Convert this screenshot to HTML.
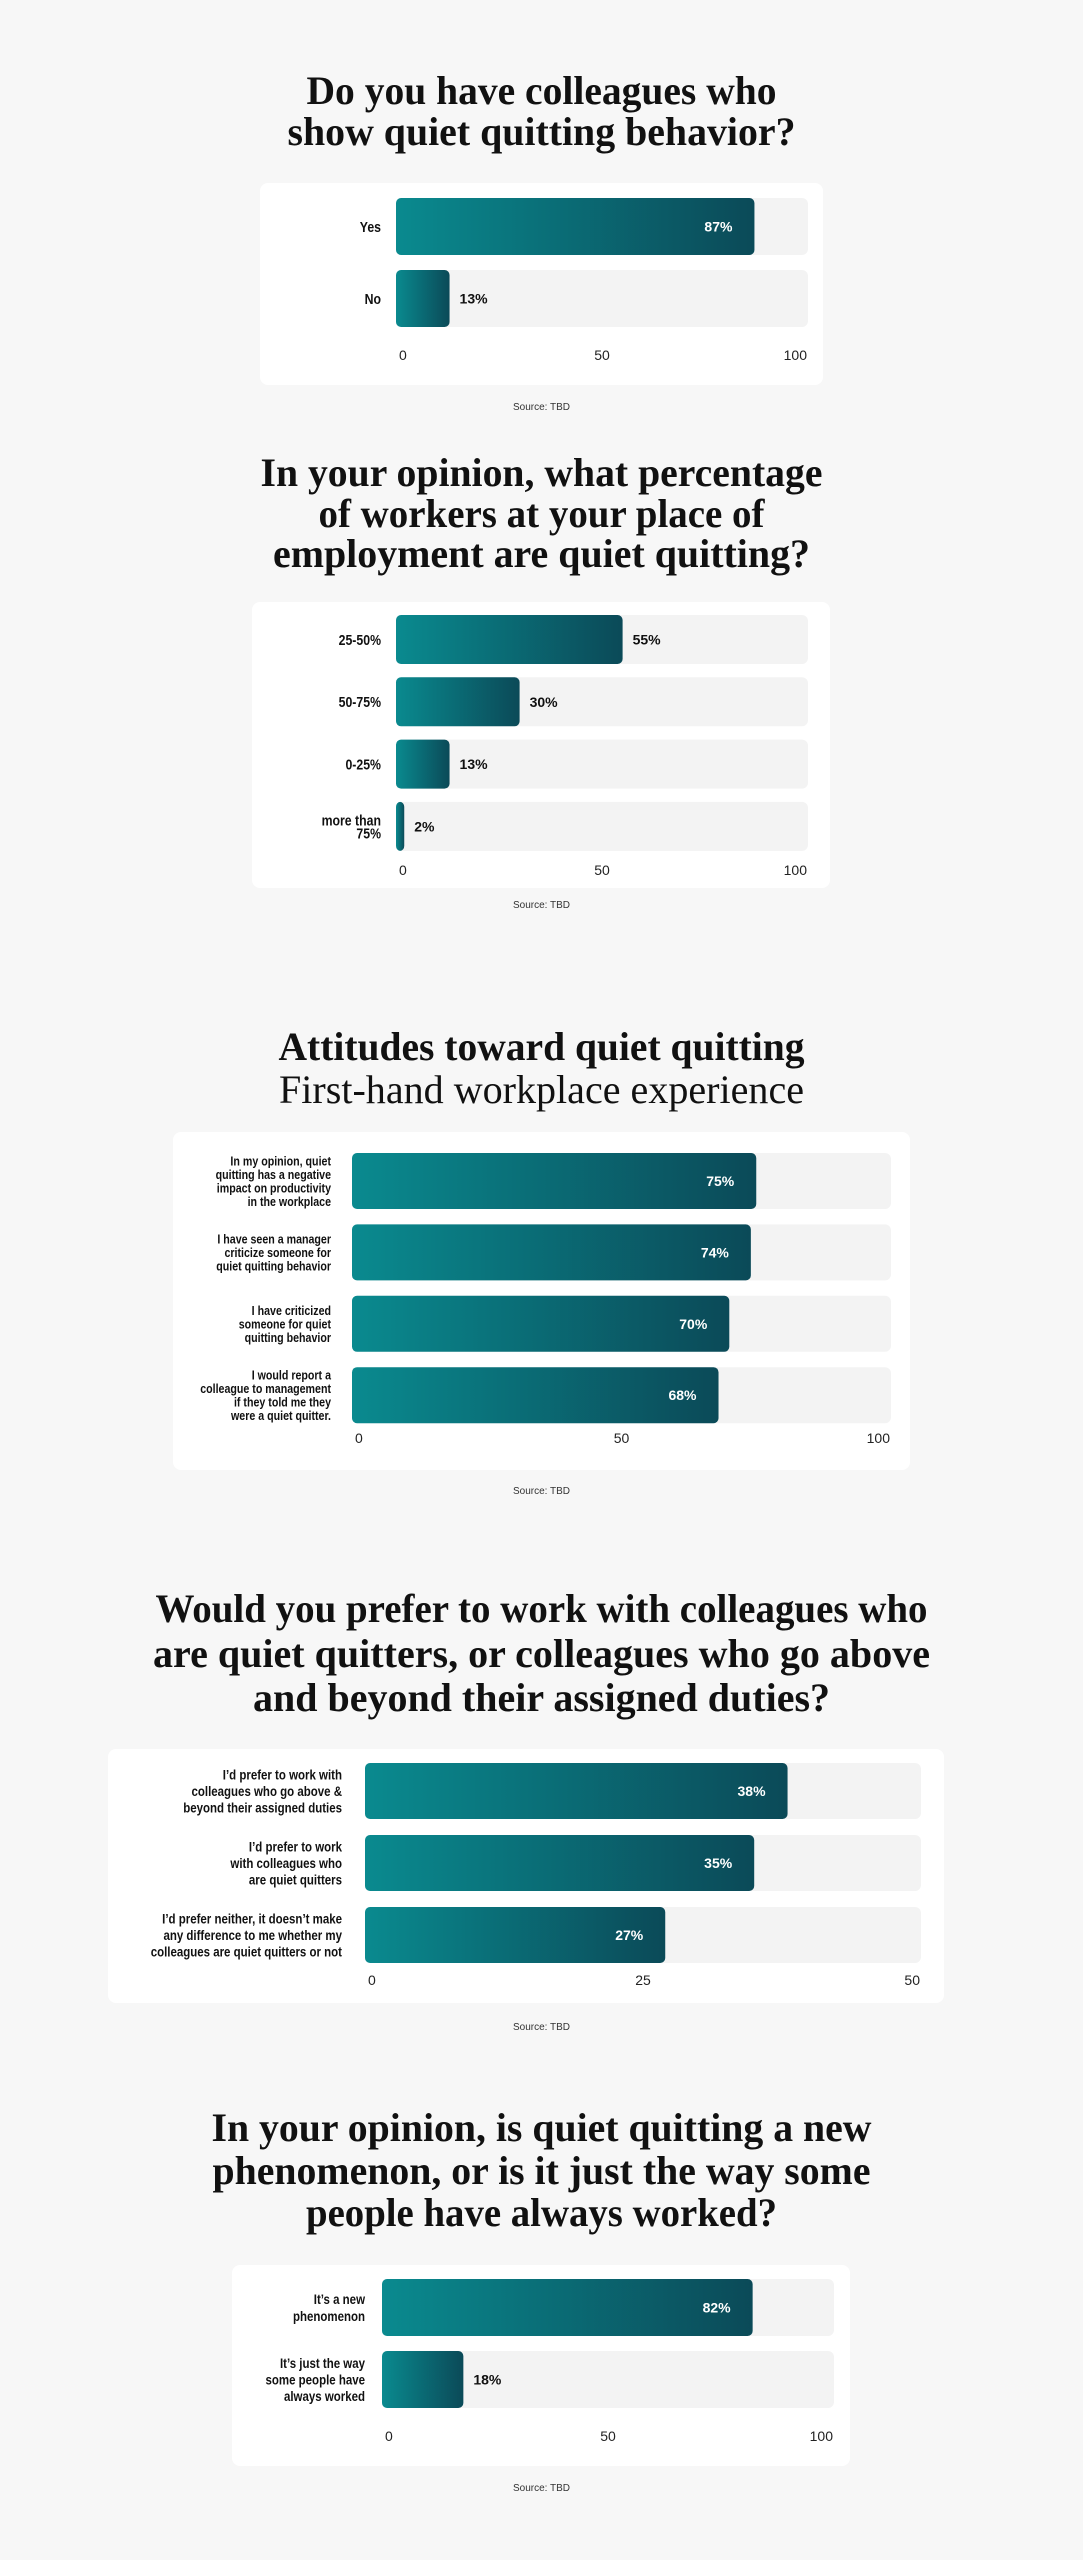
<!DOCTYPE html>
<html><head><meta charset="utf-8">
<style>
html,body{margin:0;padding:0;background:#f7f7f7;}
svg{display:block;}
</style></head>
<body>
<svg id="page" width="1083" height="2560" viewBox="0 0 1083 2560" xmlns="http://www.w3.org/2000/svg">
<defs>
<linearGradient id="barGrad" x1="0" y1="0" x2="1" y2="0">
<stop offset="0" stop-color="#0a8a8f"/><stop offset="1" stop-color="#0b4a58"/>
</linearGradient>
</defs>
<rect width="1083" height="2560" fill="#f7f7f7"/>
</svg>
<script>
// ----- data -----
const c1Categories = [["Yes"], ["No"]];
const c1Values = [87, 13];
const c1Ticks = ["0", "50", "100"];

const c2Categories = [["25-50%"], ["50-75%"], ["0-25%"], ["more than", "75%"]];
const c2Values = [55, 30, 13, 2];
const c2Ticks = ["0", "50", "100"];

const c3Categories = [
  ["In my opinion, quiet", "quitting has a negative", "impact on productivity", "in the workplace"],
  ["I have seen a manager", "criticize someone for", "quiet quitting behavior"],
  ["I have criticized", "someone for quiet", "quitting behavior"],
  ["I would report a", "colleague to management", "if they told me they", "were a quiet quitter."]
];
const c3Values = [75, 74, 70, 68];
const c3Ticks = ["0", "50", "100"];

const c4Categories = [
  ["I\u2019d prefer to work with", "colleagues who go above &", "beyond their assigned duties"],
  ["I\u2019d prefer to work", "with colleagues who", "are quiet quitters"],
  ["I\u2019d prefer neither, it doesn\u2019t  make", "any difference to me whether my", "colleagues are quiet quitters or not"]
];
const c4Values = [38, 35, 27];
const c4Ticks = ["0", "25", "50"];

const c5Categories = [["It\u2019s a new", "phenomenon"], ["It\u2019s just the way", "some people have", "always worked"]];
const c5Values = [82, 18];
const c5Ticks = ["0", "50", "100"];

// ----- layout -----
const NS = "http://www.w3.org/2000/svg";
const svg = document.getElementById("page");
function mk(tag, attrs, parent){
  const e = document.createElementNS(NS, tag);
  for (const k in attrs) e.setAttribute(k, attrs[k]);
  (parent||svg).appendChild(e);
  return e;
}
const serif = "'Liberation Serif', serif";
const sans = "'Liberation Sans', sans-serif";

function drawChart(cfg){
  const g = mk("g", {});
  
  
  cfg.title.forEach((t, i) => {
    const tx = mk("text", {x: 541.5, y: t.y, "text-anchor": "middle", "font-family": serif,
      "font-weight": t.normal ? "normal" : "bold", "font-size": 40, fill: "#111",
      textLength: t.w, lengthAdjust: "spacingAndGlyphs"}, g);
    tx.textContent = t.s;
    
    
  });
  const card = mk("rect", {x: cfg.card[0], y: cfg.card[1], width: cfg.card[2]-cfg.card[0], height: cfg.card[3]-cfg.card[1], rx: 8, fill: "#fff"}, g);
  
  
  const x0 = cfg.x0, x1 = cfg.x1, maxV = cfg.max;
  const xs = v => x0 + (v / maxV) * (x1 - x0);
  cfg.values.forEach((v, i) => {
    const y = cfg.y0 + i * cfg.step, h = cfg.h;
    const track = mk("rect", {x: x0, y: y, width: x1 - x0, height: h, rx: 6, fill: "#f3f3f3"}, g);
    
    
    const bw = Math.max(xs(v) - x0, 6);
    const bar = mk("rect", {x: x0, y: y, width: bw, height: h, rx: 5, fill: "url(#barGrad)"}, g);
    
    
    const inside = (v / maxV) >= cfg.insideAt;
    const vl = mk("text", {x: inside ? xs(v) - 22 : x0 + bw + 10, y: y + h/2 + 5,
      "text-anchor": inside ? "end" : "start", "font-family": sans, "font-weight": "bold",
      "font-size": 14, fill: inside ? "#fff" : "#111"}, g);
    vl.textContent = v + "%";
    
    
    const lines = cfg.cats[i];
    const lh = cfg.lh;
    const startY = y + h/2 - (lines.length - 1) * lh / 2 + cfg.fs * 0.36;
    lines.forEach((ln, j) => {
      const lg = mk("g", {transform: "translate(" + cfg.labelX + "," + (startY + j*lh) + ") scale(0.82,1)"}, g);
      const t = mk("text", {x: 0, y: 0, "text-anchor": "end", "font-family": sans, "font-weight": "bold",
        "font-size": cfg.fs, fill: "#111"}, lg);
      t.textContent = ln;
      
      
    });
  });
  const tv = cfg.ticks.map(Number);
  cfg.ticks.forEach((lab, i) => {
    const last = i === cfg.ticks.length - 1;
    const anchor = i === 0 ? "start" : (last ? "end" : "middle");
    const px = i === 0 ? xs(tv[i]) + 3 : (last ? xs(tv[i]) - 1 : xs(tv[i]));
    const t = mk("text", {x: px, y: cfg.tickY + 5, "text-anchor": anchor, "font-family": sans,
      "font-size": 14, fill: "#222"}, g);
    t.textContent = lab;
    
    
  });
  const s = mk("text", {x: 541.5, y: cfg.srcY + 4, "text-anchor": "middle", "font-family": sans,
    "font-size": 10, fill: "#333"}, g);
  s.textContent = "Source: TBD";
  
  
}

drawChart({name: "chart-colleagues-quiet-quitting",
  title: [{s: "Do you have colleagues who", y: 104, w: 470}, {s: "show quiet quitting behavior?", y: 145, w: 508}],
  card: [260, 183, 823, 385], x0: 396, x1: 808, max: 100, y0: 198, step: 72, h: 57,
  values: c1Values, cats: c1Categories, ticks: c1Ticks, tickY: 355, srcY: 406,
  insideAt: 0.5, labelX: 381, lh: 17, fs: 15});

drawChart({name: "chart-percentage-quiet-quitting",
  title: [{s: "In your opinion, what percentage", y: 486, w: 562},
          {s: "of workers at your place of", y: 527, w: 446},
          {s: "employment are quiet quitting?", y: 567, w: 537}],
  card: [252, 602, 830, 888], x0: 396, x1: 808, max: 100, y0: 615, step: 62.3, h: 49,
  values: c2Values, cats: c2Categories, ticks: c2Ticks, tickY: 870, srcY: 904,
  insideAt: 2, labelX: 381, lh: 13, fs: 15});

drawChart({name: "chart-attitudes",
  title: [{s: "Attitudes toward quiet quitting", y: 1060, w: 526},
          {s: "First-hand workplace experience", y: 1103, w: 525, normal: true}],
  card: [173, 1132, 910, 1470], x0: 352, x1: 891, max: 100, y0: 1153, step: 71.4, h: 56,
  values: c3Values, cats: c3Categories, ticks: c3Ticks, tickY: 1438, srcY: 1490,
  insideAt: 0, labelX: 331, lh: 13.5, fs: 13});

drawChart({name: "chart-prefer-colleagues",
  title: [{s: "Would you prefer to work with colleagues who", y: 1622, w: 772},
          {s: "are quiet quitters, or colleagues who go above", y: 1667, w: 777},
          {s: "and beyond their assigned duties?", y: 1711, w: 577}],
  card: [108, 1749, 944, 2003], x0: 365, x1: 921, max: 50, y0: 1763, step: 72, h: 56,
  values: c4Values, cats: c4Categories, ticks: c4Ticks, tickY: 1980, srcY: 2026,
  insideAt: 0, labelX: 342, lh: 16.3, fs: 14});

drawChart({name: "chart-new-phenomenon",
  title: [{s: "In your opinion, is quiet quitting a new", y: 2141, w: 660},
          {s: "phenomenon, or is it just the way some", y: 2184, w: 658},
          {s: "people have always worked?", y: 2226, w: 471}],
  card: [232, 2265, 850, 2466], x0: 382, x1: 834, max: 100, y0: 2279, step: 72, h: 57,
  values: c5Values, cats: c5Categories, ticks: c5Ticks, tickY: 2436, srcY: 2487,
  insideAt: 0.5, labelX: 365, lh: 16.7, fs: 14});
</script>
</body></html>
